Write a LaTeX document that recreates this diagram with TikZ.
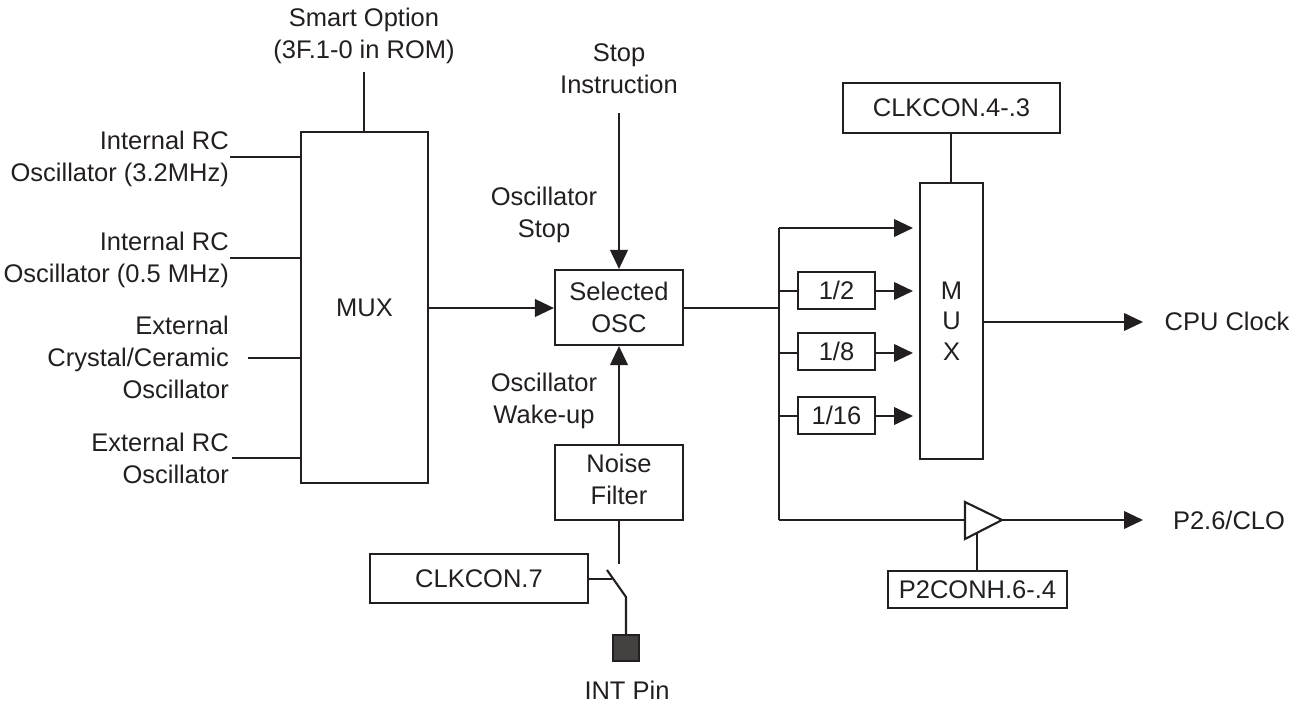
\documentclass[tikz,border=0pt]{standalone}
\usepackage{fontspec}
\setmainfont{Liberation Sans}
\usetikzlibrary{arrows.meta}
\definecolor{ink}{HTML}{231F20}
\tikzset{
	every node/.style={font=\fontsize{7.25}{9.1}\selectfont,text=ink,inner sep=0pt,align=center},
	box/.style={draw=ink,line width=0.6pt},
	line/.style={draw=ink,line width=0.6pt},
	arr/.style={line,-{Triangle[length=5.4pt,width=5pt]}}
}
\begin{document}
\begin{tikzpicture}[x=0.01cm,y=-0.01cm]
	\useasboundingbox (0,0) rectangle (1290,708);
	% big blocks
	\node[box,minimum width=127*0.01cm,minimum height=351*0.01cm] at (364.5,307.5) (muxa) {MUX};
	\node[box,minimum width=63*0.01cm,minimum height=276*0.01cm] at (951.5,321) (muxb) {M\\[-0.5pt]U\\[-0.5pt]X};
	\node[box,minimum width=128*0.01cm,minimum height=75*0.01cm] at (619,307.5) (osc) {Selected\\OSC};
	\node[box,minimum width=128*0.01cm,minimum height=75*0.01cm] at (619,482.5) (filter) {\raisebox{2pt}{Noise}\\\raisebox{2pt}{Filter}};
	\node[box,minimum width=218*0.01cm,minimum height=49*0.01cm] at (479,578.5) (conseven) {CLKCON.7};
	\node[box,minimum width=217*0.01cm,minimum height=50*0.01cm] at (951.5,108) (confour) {CLKCON.4-.3};
	\node[box,minimum width=179*0.01cm,minimum height=37*0.01cm] at (977.5,589.5) (contwo) {P2CONH.6-.4};
	% left labels
	\node[anchor=east,align=right] at (229.5,158.5) (inta) {Internal RC\\Oscillator (3.2MHz)};
	\node[anchor=east,align=right] at (229.5,259.5) (intb) {Internal RC\\Oscillator (0.5 MHz)};
	\node[anchor=east,align=right] at (229.5,357) (xtal) {External\\Crystal/Ceramic\\Oscillator};
	\node[anchor=east,align=right] at (229.5,458) (extrc) {External RC\\Oscillator};
	\coordinate (ina) at (230,157);
	\coordinate (inb) at (230,258);
	\coordinate (inc) at (248,358);
	\coordinate (ind) at (232,458);
	\foreach \c in {ina,inb,inc,ind}{
		\draw[line] (\c) -- (\c -| muxa.west);
	}
	% top labels
	\node at (364,36) (smart) {Smart Option\\(3F.1-0 in ROM)};
	\node at (619,69) (stop) {Stop\\Instruction};
	\node at (544,215) (oscstop) {Oscillator\\Stop};
	\node at (544,401) (wake) {Oscillator\\Wake-up};
	\coordinate (smartend) at (364,72);
	\coordinate (stopend) at (619,113);
	\coordinate (bus) at (779,308);
	\draw[line] (smartend) -- (smartend |- muxa.north);
	\draw[arr] (stopend) -- (osc.north);
	\draw[arr] (muxa.east |- bus) -- (osc.west |- bus);
	\draw[arr] (filter.north) -- (osc.south);
	\draw[line] ([xshift=-0.005cm]confour.south) -- ([xshift=-0.005cm]muxb.north);
	% switch and pin
	\node[draw=ink,line width=0.6pt,fill=ink!85!white,minimum size=26*0.01cm] at (626,648) (pin) {};
	\node at (627,690) (intpin) {INT Pin};
	\coordinate (swtop) at (619,564);
	\coordinate (swa) at (607,570);
	\coordinate (swb) at (626,597);
	\coordinate (swc) at (612,579);
	\draw[line] (filter.south) -- (swtop);
	\draw[line] (conseven.east |- swc) -- (swc);
	\draw[line] (swa) -- (swb) -- (pin.north);
	% divider branch
	\coordinate (bustop) at (779,228);
	\coordinate (busend) at (779,520);
	\draw[line] (osc.east |- bus) -- (bus);
	\draw[line] (bustop) -- (busend);
	\coordinate (muxin) at (913,228);
	\draw[arr] (bustop) -- (muxin);
	\foreach \name/\y/\ty/\txt in {half/290.5/291/1\slash 2, eighth/351.5/353/1\slash 8, sixteenth/415.5/416/1\slash 16}{
		\node[box,minimum width=77*0.01cm,minimum height=37*0.01cm] at (836.5,\y) (\name) {\txt};
		\coordinate (\name t) at (779,\ty);
		\draw[line] (\name t) -- (\name t -| \name.west);
		\draw[arr] (\name t -| \name.east) -- (\name t -| muxin);
	}
	% outputs
	\node at (1227,321) (cpu) {CPU Clock};
	\node at (1229,520) (clo) {P2.6/CLO};
	\coordinate (cpuend) at (1143,322);
	\draw[arr] (muxb.east |- cpuend) -- (cpuend);
	\coordinate (tria) at (965,502);
	\coordinate (trib) at (965,539);
	\coordinate (tric) at (1002,520);
	\coordinate (cloend) at (1143,520);
	\draw[line,line join=miter] (tria) -- (tric) -- (trib) -- cycle;
	\draw[line] (busend) -- (busend -| tria);
	\draw[arr] (tric) -- (cloend);
	\draw[line] ([xshift=-0.005cm]contwo.north) -- ([xshift=-0.005cm]contwo.north |- 0,533);
\end{tikzpicture}
\end{document}
